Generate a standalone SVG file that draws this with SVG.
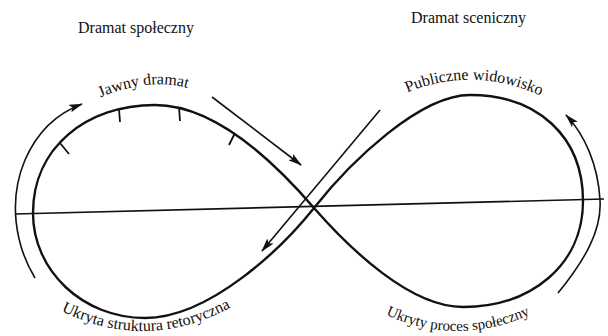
<svg xmlns="http://www.w3.org/2000/svg" width="608" height="336" viewBox="0 0 608 336">
<style>
  .lbl { font-family: "Liberation Serif", "Times New Roman", serif; font-size: 16px; fill: #111; }
  .main { fill: none; stroke: #111; stroke-width: 2.4; }
  .thin { fill: none; stroke: #111; stroke-width: 1.6; }
  .tick { fill: none; stroke: #111; stroke-width: 1.8; }
</style>
<defs>
  <marker id="ah" markerUnits="userSpaceOnUse" markerWidth="14" markerHeight="8" refX="13" refY="4" orient="auto">
    <path d="M0,0 L14,4 L0,8 L3,4 z" fill="#111"/>
  </marker>
  <path id="p-jawny" d="M 95,100 Q 155,72 205,94"/>
  <path id="p-publ" d="M 402,95 Q 472,63 546,98"/>
  <path id="p-ukr1" d="M 50,305 Q 146,359 242,301"/>
  <path id="p-ukr2" d="M 380,312 Q 457,350 536,312"/>
</defs>
<rect width="608" height="336" fill="#fff"/>

<g id="figure-eight">
  <path class="main" d="M 314,208 C 283,172 220,105 155,105 C 86,105 33,148 33,213 C 33,271 83,318 145,318 C 210,318 283,247 314,208 C 351,161 420,95 470,95 C 538,95 583,137 583,201 C 583,265 531,307 463,307 C 410,307 350,249 314,208 Z"/>
  <line class="thin" x1="15" y1="214" x2="604" y2="199"/>
  <g id="ticks">
    <line class="tick" x1="60" y1="143" x2="69" y2="154"/>
    <line class="tick" x1="119" y1="109" x2="120" y2="122"/>
    <line class="tick" x1="179" y1="107" x2="180" y2="121"/>
    <line class="tick" x1="235" y1="133" x2="229" y2="145"/>
  </g>
</g>

<g id="connectors">
  <path class="thin" d="M 35,278 C 15,245 8,200 25,160 C 38,130 58,113 82,104" marker-end="url(#ah)"/>
  <path class="thin" d="M 558,293 C 585,260 602,230 600,200 C 598,165 585,135 566,115" marker-end="url(#ah)"/>
  <line class="thin" x1="212" y1="97" x2="301" y2="165" marker-end="url(#ah)"/>
  <line class="thin" x1="380" y1="110" x2="262" y2="251" marker-end="url(#ah)"/>
</g>

<g id="label-dramat-spoleczny">
  <text class="lbl" x="78" y="33">Dramat społeczny</text>
</g>
<g id="label-dramat-sceniczny">
  <text class="lbl" x="411" y="23">Dramat sceniczny</text>
</g>
<g id="label-jawny">
  <text class="lbl"><textPath href="#p-jawny" startOffset="6">Jawny dramat</textPath></text>
</g>
<g id="label-publiczne">
  <text class="lbl"><textPath href="#p-publ" startOffset="50%" text-anchor="middle">Publiczne widowisko</textPath></text>
</g>
<g id="label-ukryta">
  <text class="lbl"><textPath href="#p-ukr1" startOffset="50%" text-anchor="middle">Ukryta struktura retoryczna</textPath></text>
</g>
<g id="label-ukryty">
  <text class="lbl" style="font-size:15px"><textPath href="#p-ukr2" startOffset="50%" text-anchor="middle">Ukryty proces społeczny</textPath></text>
</g>
</svg>
